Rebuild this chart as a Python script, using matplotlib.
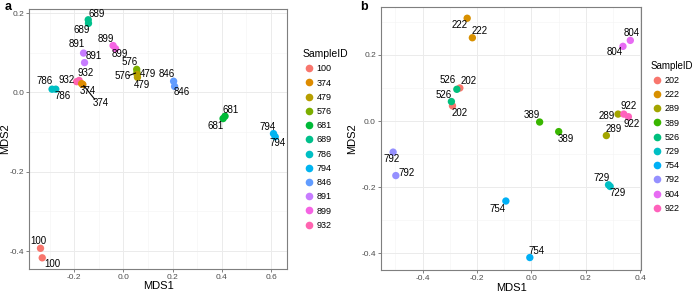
import matplotlib
matplotlib.use("Agg")
import matplotlib.pyplot as plt
from matplotlib.lines import Line2D
import numpy as np

plt.rcParams['font.family'] = ['Liberation Sans', 'DejaVu Sans']

# ---- panel a data ----
ids_a = ['100', '374', '479', '576', '681', '689', '786', '794', '846', '891', '899', '932']
cols_a = ['#F8766D', '#DE8C00', '#B79F00', '#7CAE00', '#00BA38', '#00C08B',
          '#00BFC4', '#00B4F0', '#619CFF', '#C77CFF', '#F564E3', '#FF64B0']
pts_a_id = ['689', '689', '891', '891', '899', '899', '576', '576', '479', '479',
            '846', '846', '932', '932', '374', '374', '786', '786', '681', '681',
            '794', '794', '100', '100']
pts_a_x = [-0.143, -0.142, -0.162, -0.158, -0.042, -0.032, 0.054, 0.055, 0.056, 0.057,
           0.204, 0.208, -0.190, -0.180, -0.170, -0.165, -0.290, -0.275, 0.413, 0.405,
           0.610, 0.617, -0.337, -0.330]
pts_a_y = [0.183, 0.174, 0.099, 0.075, 0.118, 0.110, 0.058, 0.050, 0.045, 0.038,
           0.028, 0.015, 0.027, 0.030, 0.022, 0.020, 0.008, 0.008, -0.060, -0.066,
           -0.104, -0.112, -0.393, -0.417]
# label offsets in pixels (dx, dy up); optional segment end offset
lab_a = [(8, 6), (-7, -7), (-7, 9), (9, 7), (-7, 7), (4, -5),
         (-7, 7), (-14, -3), (11, 1), (4, -8),
         (-7, 7), (7, -6), (9, 9), (-13, 0), (6, -7), (18, -19),
         (-7, 8), (7, -7), (6, 6), (-7, -7),
         (-6, 7), (2, -6), (-2, 7), (10, -6)]
seg_a = {7: (-8, -3), 15: (12, -15)}

# ---- panel b data ----
ids_b = ['202', '222', '289', '389', '526', '729', '754', '792', '804', '922']
cols_b = ['#F8766D', '#D89000', '#A3A500', '#39B600', '#00BF7D',
          '#00BFC4', '#00B0F6', '#9590FF', '#E76BF3', '#FF62BC']
pts_b_id = ['222', '222', '804', '804', '202', '202', '526', '526', '389', '389',
            '289', '289', '922', '922', '792', '792', '729', '729', '754', '754']
pts_b_x = [-0.236, -0.217, 0.336, 0.363, -0.263, -0.290, -0.274, -0.294, 0.030, 0.100,
           0.318, 0.275, 0.339, 0.356, -0.508, -0.498, 0.283, 0.289, -0.094, -0.006]
pts_b_y = [0.311, 0.252, 0.226, 0.244, 0.100, 0.046, 0.096, 0.059, -0.003, -0.032,
           0.021, -0.044, 0.021, 0.013, -0.094, -0.165, -0.193, -0.198, -0.242, -0.413]
lab_b = [(-8, -7), (7, 7), (-8, -6), (1, 7), (9, 7), (7, -7),
         (-9, 9), (-8, 7), (-8, 7), (7, -7), (-11, -2), (7, 7),
         (5, 8), (3, -7), (-2, -7), (11, 3), (-7, 7), (7, -7),
         (-8, -8), (7, 7)]
seg_b = {}


def draw_panel(ax, ids, cols, pid, px, py, labs, segs, xlim, ylim, xticks, yticks,
               leg_x, leg_y, ylab_x, title_fs):
    cmap = dict(zip(ids, cols))
    ax.set_facecolor('white')
    ax.scatter(px, py, s=28, c=[cmap[i] for i in pid], zorder=3, linewidths=0)
    for i, (x, y) in enumerate(zip(px, py)):
        dx, dy = labs[i]
        if i in segs:
            ax.annotate('', (x, y), xytext=segs[i], textcoords='offset pixels',
                        zorder=4, arrowprops=dict(arrowstyle='-', color='black', lw=0.8,
                                                  shrinkA=0, shrinkB=1))
        ax.annotate(pid[i], (x, y), xytext=(dx, dy), textcoords='offset pixels',
                    ha='center', va='center', fontsize=7, color='black', zorder=4)
    ax.set_xticks(xticks)
    ax.set_yticks(yticks)
    ax.set_xticklabels([f'{t:.1f}' for t in xticks])
    ax.set_yticklabels([f'{t:.1f}' for t in yticks])
    mx = np.arange(xticks[0] - 0.1, xticks[-1] + 0.15, 0.2)
    my = np.arange(yticks[0] - 0.1, yticks[-1] + 0.15, 0.2)
    ax.set_xticks(mx, minor=True)
    ax.set_yticks(my, minor=True)
    ax.set_xlim(*xlim)
    ax.set_ylim(*ylim)
    ax.grid(True, which='major', color='#EBEBEB', lw=0.7)
    ax.grid(True, which='minor', color='#F4F4F4', lw=0.4)
    ax.set_axisbelow(True)
    ax.tick_params(which='major', labelsize=6, colors='#4D4D4D', length=2, width=0.5, pad=1.5)
    ax.tick_params(which='minor', length=0)
    for sp in ax.spines.values():
        sp.set_color('#7F7F7F')
        sp.set_linewidth(0.8)
    ax.set_xlabel('MDS1', fontsize=8, labelpad=0.5)
    ax.set_ylabel('MDS2', fontsize=8)
    ax.yaxis.set_label_coords(ylab_x, 0.5)
    handles = [Line2D([], [], marker='o', ls='', markersize=5.5, markerfacecolor=c,
                      markeredgewidth=0) for c in cols]
    leg = ax.legend(handles, ids, title='SampleID', loc='upper left',
                    bbox_to_anchor=(leg_x, leg_y), frameon=False, fontsize=6.5,
                    title_fontsize=title_fs, handletextpad=0.2, labelspacing=0.58,
                    borderaxespad=0, handlelength=1.4)
    leg._legend_box.align = 'left'


fig = plt.figure(figsize=(6.95, 2.92), dpi=100)
ax_a = fig.add_axes([0.042, 0.079, 0.371, 0.890])
ax_b = fig.add_axes([0.548, 0.075, 0.375, 0.901])

draw_panel(ax_a, ids_a, cols_a, pts_a_id, pts_a_x, pts_a_y, lab_a, seg_a,
           (-0.383, 0.665), (-0.445, 0.21), [-0.2, 0.0, 0.2, 0.4, 0.6], [-0.4, -0.2, 0.0, 0.2],
           1.045, 0.86, -0.075, 7.5)
draw_panel(ax_b, ids_b, cols_b, pts_b_id, pts_b_x, pts_b_y, lab_b, seg_b,
           (-0.553, 0.404), (-0.451, 0.345), [-0.4, -0.2, 0.0, 0.2, 0.4], [-0.4, -0.2, 0.0, 0.2],
           1.02, 0.81, -0.09, 7.0)

fig.text(0.006, 0.975, 'a', fontsize=9, fontweight='bold', va='center')
fig.text(0.518, 0.975, 'b', fontsize=9, fontweight='bold', va='center')

fig.savefig('out.png', dpi=100, facecolor='white')
